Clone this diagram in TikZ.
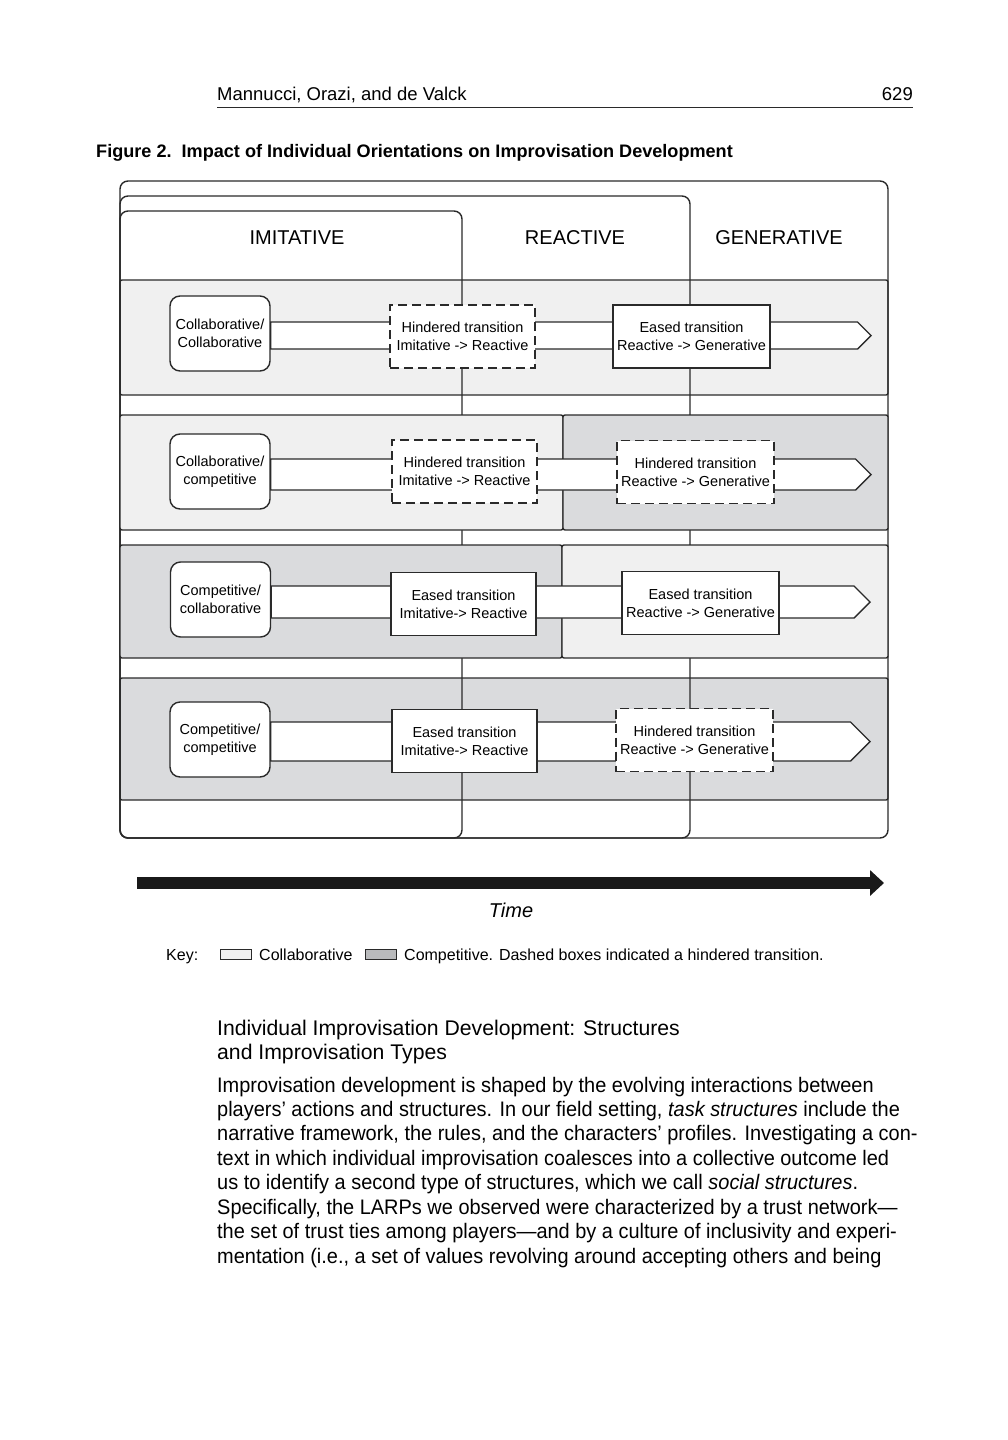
\documentclass[tikz,border=0pt]{standalone}
\usepackage{fontspec}
\setmainfont{Liberation Sans}
\newfontfamily\narrowfont[FakeStretch=0.95]{Liberation Sans}
\usepackage{tikz}
\usetikzlibrary{arrows.meta,positioning,calc}
\definecolor{collab}{HTML}{F0F0F0}
\definecolor{compet}{HTML}{DADBDD}
\definecolor{ink}{HTML}{2A2A2A}
\tikzstyle{line} = [draw=ink, line width=1.4pt]
\tikzstyle{frame} = [line, rounded corners=8pt]
\tikzstyle{band} = [line, rounded corners=2pt]
\tikzstyle{pipe} = [line, fill=white]
\tikzstyle{player} = [line, fill=white, rounded corners=10pt, minimum width=100pt, minimum height=75pt, align=center, inner sep=1pt, font=\fontsize{14.5}{18}\selectfont]
\tikzstyle{eased} = [line, fill=white, minimum height=63pt, align=center, inner sep=1pt, font=\fontsize{14.5}{18}\selectfont]
\tikzstyle{hindered} = [eased, dash pattern=on 9pt off 5pt]
\tikzstyle{phase} = [font=\fontsize{20}{24}\selectfont]
\tikzstyle{keybox} = [draw=ink, line width=1pt, minimum width=31pt, minimum height=10pt, inner sep=0pt]
\tikzstyle{keytext} = [anchor=base west, inner sep=0pt, font=\fontsize{16}{19}\selectfont]
\tikzset{>=latex}
\newcommand{\drawpipe}[3]{%
  \path [pipe] ($(#1.east |- #2)+(0,-#3)$) -- ($(#2)+(-#3,-#3)$) -- (#2)
    -- ($(#2)+(-#3,#3)$) -- ($(#1.east |- #2)+(0,#3)$) -- cycle;}

\begin{document}
\begin{tikzpicture}[x=1pt,y=-1pt]
  \useasboundingbox [fill=white] (0,0) rectangle (1008,1440);
  \node [anchor=base west, inner sep=0pt, font=\fontsize{18.5}{22}\selectfont] (author) at (217,100) {Mannucci, Orazi, and de Valck};
  \node [anchor=base east, inner sep=0pt, font=\fontsize{18.5}{22}\selectfont] (page) at (913,100) {629};
  \path [draw=ink, line width=1pt] (217,107) -- (913,107);
  \node [anchor=base west, inner sep=0pt, font=\bfseries\fontsize{18.1}{22}\selectfont] (caption) at (96,157) {Figure 2.\ \ Impact of Individual Orientations on Improvisation Development};

  \path [band, fill=collab] (120,280) rectangle (888,395);
  \path [band, fill=compet] (120,678) rectangle (888,800);
  \path [frame] (120,181) rectangle (888,838);
  \path [frame] (120,196) rectangle (690,838);
  \path [frame] (120,211) rectangle (462,838);
  \path [band, fill=collab] (120,415) rectangle (563,530);
  \path [band, fill=compet] (563,415) rectangle (888,530);
  \path [band, fill=compet] (120,545) rectangle (562,658);
  \path [band, fill=collab] (562,545) rectangle (888,658);

  \node [phase] (imitative) at (297,238) {IMITATIVE};
  \node [phase] (reactive) at (575,238) {REACTIVE};
  \node [phase] (generative) at (779,238) {GENERATIVE};

  \node [player] (cc) at (220,333.5) {Collaborative/\\Collaborative};
  \node [player] (ck) at (220,471.5) {Collaborative/\\competitive};
  \node [player] (kc) at (220.5,599.5) {Competitive/\\collaborative};
  \node [player] (kk) at (220,739.5) {Competitive/\\competitive};

  \coordinate (cctip) at (871,335.5);
  \coordinate (cktip) at (871,474.5);
  \coordinate (kctip) at (870,602);
  \coordinate (kktip) at (870,741.5);
  \drawpipe{cc}{cctip}{13.5}
  \drawpipe{ck}{cktip}{15.5}
  \drawpipe{kc}{kctip}{16}
  \drawpipe{kk}{kktip}{19.5}

  \node [hindered, minimum width=145pt] (cc1) at (462.5,336.5) {Hindered transition\\Imitative -> Reactive};
  \node [eased, minimum width=157pt] (cc2) at (691.5,336.5) {Eased transition\\Reactive -> Generative};
  \node [hindered, minimum width=145pt] (ck1) at (464.5,471.5) {Hindered transition\\Imitative -> Reactive};
  \node [hindered, minimum width=157pt] (ck2) at (695.5,472) {Hindered transition\\Reactive -> Generative};
  \node [eased, minimum width=145pt] (kc1) at (463.5,604) {Eased transition\\Imitative-> Reactive};
  \node [eased, minimum width=157pt] (kc2) at (700.5,603) {Eased transition\\Reactive -> Generative};
  \node [eased, minimum width=145pt] (kk1) at (464.5,741) {Eased transition\\Imitative-> Reactive};
  \node [hindered, minimum width=157pt] (kk2) at (694.5,740) {Hindered transition\\Reactive -> Generative};

  \coordinate (start) at (137,883);
  \coordinate (end) at (884,883);
  \path [draw=black!90, line width=12pt, -{Triangle[length=14pt,width=25pt]}] (start) -- (end);
  \node [font=\itshape\fontsize{20}{24}\selectfont] (time) at (511,910) {Time};

  \node [keytext] (key) at (166,960) {Key:};
  \node [keybox, fill=collab] (keycollab) at (235.5,954) {};
  \node [keytext] (keycollabtext) at (259,960) {Collaborative};
  \node [keybox, fill=compet!85!black] (keycompet) at (381,954) {};
  \node [keytext] (keycompettext) at (404,960) {Competitive. Dashed boxes indicated a hindered transition.};

  \node [anchor=base west, align=left, inner sep=0pt, font=\fontsize{21.2}{24}\selectfont] (heading) at (217,1059) {Individual Improvisation Development: Structures\\and Improvisation Types};
  \node [anchor=base west, align=left, inner sep=0pt, font=\narrowfont\fontsize{21}{24.43}\selectfont] (body) at (217,1263) {Improvisation development is shaped by the evolving interactions between\\
players’ actions and structures. In our field setting, \textit{task structures} include the\\
narrative framework, the rules, and the characters’ profiles. Investigating a con-\\
text in which individual improvisation coalesces into a collective outcome led\\
us to identify a second type of structures, which we call \textit{social structures}.\\
Specifically, the LARPs we observed were characterized by a trust network—\\
the set of trust ties among players—and by a culture of inclusivity and experi-\\
mentation (i.e., a set of values revolving around accepting others and being};
\end{tikzpicture}
\end{document}
